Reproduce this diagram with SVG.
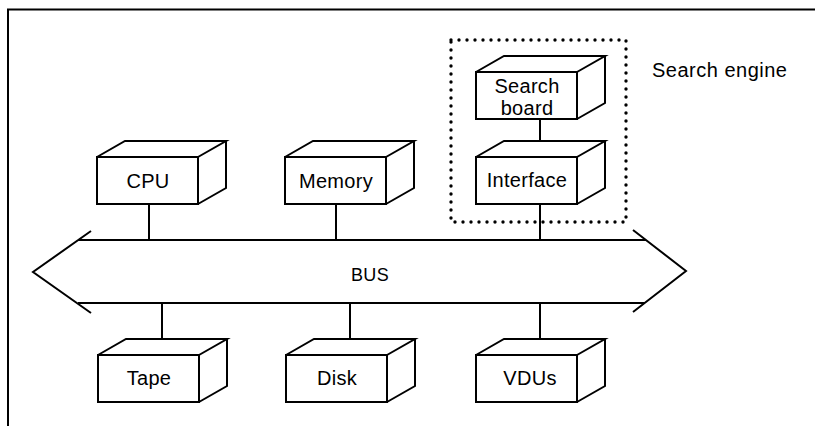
<svg xmlns="http://www.w3.org/2000/svg" xmlns:xlink="http://www.w3.org/1999/xlink" width="815" height="426" viewBox="0 0 815 426">
  <style>
    .ln { fill: none; stroke: #000; stroke-width: 2; stroke-linejoin: miter; }
    .cube { fill: #fff; stroke: #000; stroke-width: 2; stroke-linejoin: miter; }
    .lbl { font-family: "Liberation Sans", Arial, sans-serif; font-size: 20px; fill: #000; text-anchor: middle; letter-spacing: 0.3px; }
    .dots { fill: none; stroke: #000; stroke-width: 3.4; stroke-linecap: round; stroke-dasharray: 0 8; }
  </style>
  <defs>
    <!-- cuboid: front face 101x47 at origin, receding 28 right / 16 up -->
    <path id="cube" d="M0,0 H101 V47 H0 Z M0,0 L28,-16 H129 L101,0 M129,-16 V31 L101,47"/>
  </defs>

  <rect width="815" height="426" fill="#fff"/>

  <!-- page frame -->
  <path class="ln" d="M8,426 V9.5 H815"/>

  <!-- connectors -->
  <g id="connectors" class="ln">
    <line x1="149" y1="204" x2="149" y2="240"/>
    <line x1="336" y1="204" x2="336" y2="240"/>
    <line x1="540" y1="204" x2="540" y2="240"/>
    <line x1="540" y1="120" x2="540" y2="148"/>
    <line x1="162" y1="303" x2="162" y2="347"/>
    <line x1="350" y1="303" x2="350" y2="347"/>
    <line x1="540" y1="303" x2="540" y2="347"/>
  </g>

  <!-- bus -->
  <g id="bus">
    <path class="ln" d="M78,240 H646 M78,303 H645 M91,231 L33,272 L91,313 M633,230 L686,271 L633,312"/>
    <text class="lbl" x="370" y="281" style="font-size:18px">BUS</text>
  </g>

  <!-- search engine boundary -->
  <g id="search-engine">
    <rect class="dots" x="451" y="40" width="175" height="182"/>
    <text x="652" y="77" style="font-family:'Liberation Sans', Arial, sans-serif; font-size:20px; letter-spacing:0.5px">Search engine</text>
  </g>

  <g id="cpu">
    <use href="#cube" xlink:href="#cube" class="cube" x="97" y="157"/>
    <text class="lbl" x="148" y="188">CPU</text>
  </g>

  <g id="memory">
    <use href="#cube" xlink:href="#cube" class="cube" x="285" y="157"/>
    <text class="lbl" x="336" y="188">Memory</text>
  </g>

  <g id="search-board">
    <use href="#cube" xlink:href="#cube" class="cube" x="476" y="72"/>
    <text class="lbl" x="527" y="93">Search</text>
    <text class="lbl" x="527" y="115">board</text>
  </g>

  <g id="interface">
    <use href="#cube" xlink:href="#cube" class="cube" x="476" y="157"/>
    <text class="lbl" x="527" y="187">Interface</text>
  </g>

  <g id="tape">
    <use href="#cube" xlink:href="#cube" class="cube" x="98" y="355"/>
    <text class="lbl" x="149" y="385">Tape</text>
  </g>

  <g id="disk">
    <use href="#cube" xlink:href="#cube" class="cube" x="286" y="355"/>
    <text class="lbl" x="337" y="385">Disk</text>
  </g>

  <g id="vdus">
    <use href="#cube" xlink:href="#cube" class="cube" x="476" y="355"/>
    <text class="lbl" x="530" y="385">VDUs</text>
  </g>
</svg>
